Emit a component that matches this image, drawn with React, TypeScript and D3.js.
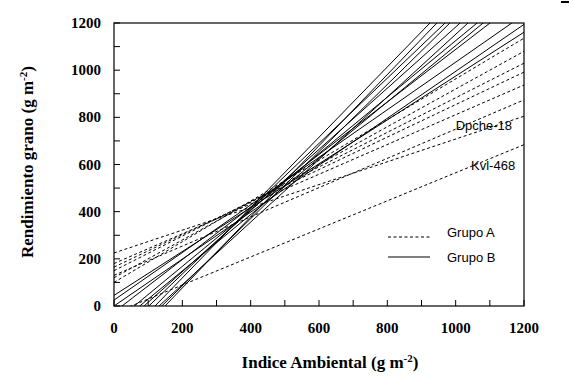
import React from "react";
import * as d3 from "d3";

// Group A (dashed) regression lines: intercept and slope
const groupAIntercept = [100, 120, 150, 165, 180, 130, 225, -30];
const groupASlope = [0.863, 0.8, 0.733, 0.689, 0.631, 0.62, 0.483, 0.595];
// Group B (solid) regression lines
const groupBIntercept = [-179, -225, -141, -199, -114, -175, -71, -26, 25, 45, 0, -90];
const groupBSlope = [1.491, 1.508, 1.384, 1.423, 1.297, 1.327, 1.196, 1.114, 1.009, 0.93, 0.995, 1.194];

const xTicks = [0, 200, 400, 600, 800, 1000, 1200];
const yTicks = [0, 200, 400, 600, 800, 1000, 1200];
const minorTicks = [0, 100, 200, 300, 400, 500, 600, 700, 800, 900, 1000, 1100, 1200];
const legendLabels = ["Grupo A", "Grupo B"];
const lineLabels = [
  { text: "Dpche-18", x: 1000, y: 745 },
  { text: "Kvl-468", x: 1045, y: 575 },
];

const W = 573;
const H = 392;
const left = 114;
const right = 524;
const top = 23;
const bottom = 306;

export default function App() {
  const x = d3.scaleLinear().domain([0, 1200]).range([left, right]);
  const y = d3.scaleLinear().domain([0, 1200]).range([bottom, top]);
  const line = d3
    .line<[number, number]>()
    .x((d) => x(d[0]))
    .y((d) => y(d[1]));
  const pts = (a: number, b: number): [number, number][] => [
    [0, a],
    [1200, a + b * 1200],
  ];
  const serif = "'Liberation Serif', 'Times New Roman', serif";
  const sans = "'Liberation Sans', Arial, sans-serif";

  return (
    <svg
      width={W}
      height={H}
      style={{ position: "absolute", left: 0, top: 0, background: "#fff" }}
    >
      <rect x={0} y={0} width={W} height={H} fill="#fff" />
      <defs>
        <clipPath id="plotclip">
          <rect x={left} y={top} width={right - left} height={bottom - top} />
        </clipPath>
      </defs>
      <g clipPath="url(#plotclip)" fill="none" stroke="#000" strokeWidth={1}>
        {groupAIntercept.map((a, i) => (
          <path
            key={"a" + i}
            d={line(pts(a, groupASlope[i])) || ""}
            strokeDasharray="3,2.5"
          />
        ))}
        {groupBIntercept.map((a, i) => (
          <path key={"b" + i} d={line(pts(a, groupBSlope[i])) || ""} />
        ))}
      </g>
      {/* frame */}
      <rect
        x={left}
        y={top}
        width={right - left}
        height={bottom - top}
        fill="none"
        stroke="#000"
        strokeWidth={1.2}
      />
      {/* ticks */}
      {minorTicks.map((t) => (
        <line
          key={"xt" + t}
          x1={x(t)}
          x2={x(t)}
          y1={bottom}
          y2={bottom - 6}
          stroke="#000"
        />
      ))}
      {minorTicks.map((t) => (
        <line
          key={"yt" + t}
          x1={left}
          x2={left + 6}
          y1={y(t)}
          y2={y(t)}
          stroke="#000"
        />
      ))}
      {xTicks.map((t) => (
        <text
          key={"xl" + t}
          x={x(t)}
          y={333}
          textAnchor="middle"
          fontFamily={serif}
          fontWeight="bold"
          fontSize={15}
        >
          {t}
        </text>
      ))}
      {yTicks.map((t) => (
        <text
          key={"yl" + t}
          x={101}
          y={y(t) + 5}
          textAnchor="end"
          fontFamily={serif}
          fontWeight="bold"
          fontSize={15}
        >
          {t}
        </text>
      ))}
      {/* axis titles */}
      <text
        x={330}
        y={368}
        textAnchor="middle"
        fontFamily={serif}
        fontWeight="bold"
        fontSize={17}
      >
        Indice Ambiental (g m<tspan dy={-6} fontSize={11}>-2</tspan>
        <tspan dy={6}>)</tspan>
      </text>
      <text
        transform={`translate(33,162) rotate(-90)`}
        textAnchor="middle"
        fontFamily={serif}
        fontWeight="bold"
        fontSize={17}
      >
        Rendimiento grano  (g m<tspan dy={-6} fontSize={11}>-2</tspan>
        <tspan dy={6}>)</tspan>
      </text>
      {/* legend */}
      <line x1={388} x2={430} y1={237} y2={237} stroke="#000" strokeDasharray="3,2.5" />
      <line x1={388} x2={430} y1={257} y2={257} stroke="#000" />
      <text x={447} y={237} fontFamily={sans} fontSize={13}>
        {legendLabels[0]}
      </text>
      <text x={447} y={262} fontFamily={sans} fontSize={13}>
        {legendLabels[1]}
      </text>
      {lineLabels.map((l) => (
        <text
          key={l.text}
          x={x(l.x)}
          y={y(l.y)}
          fontFamily={sans}
          fontSize={13}
        >
          {l.text}
        </text>
      ))}
      <rect x={561} y={1} width={8} height={2} fill="#000" />
    </svg>
  );
}
